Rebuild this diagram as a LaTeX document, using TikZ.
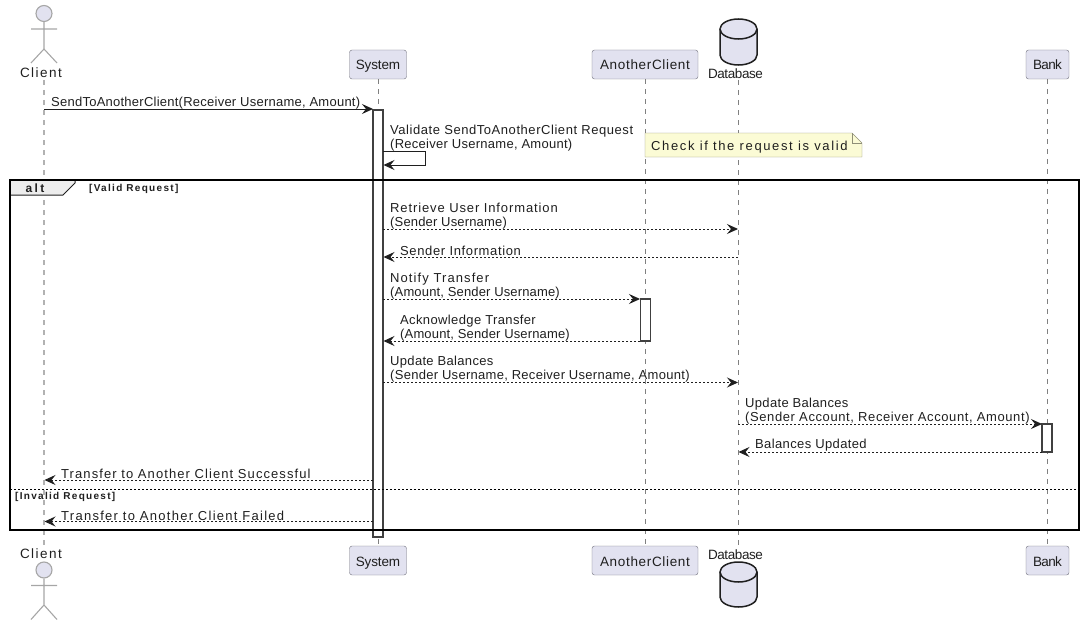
\documentclass[tikz,border=0pt]{standalone}
\usepackage{fontspec}
\setmainfont{Liberation Sans}
\usetikzlibrary{arrows.meta,shapes.geometric}
\definecolor{partfill}{HTML}{E2E2F0}
\definecolor{partline}{HTML}{6F6F7A}
\definecolor{ink}{HTML}{1F1F1F}
\definecolor{notefill}{HTML}{FBFBD5}
\definecolor{noteline}{HTML}{8F8F78}
\newcommand{\ls}[2]{{\addfontfeature{LetterSpace=#1}#2}}
\tikzset{
	part/.style={draw=partline, fill=partfill, rounded corners=2.5pt, minimum height=29pt, inner sep=0pt, text=ink, text height=12pt, text depth=1pt, font=\fontsize{13.5}{15}\selectfont},
	msg/.style={anchor=west, align=left, inner sep=0pt, text=ink, font=\fontsize{13}{14}\selectfont},
	small/.style={anchor=west, inner sep=0pt, text=ink, font=\fontsize{10}{11}\selectfont\bfseries\addfontfeature{LetterSpace=13}},
	actorlabel/.style={inner sep=0pt, text=ink, font=\fontsize{13.5}{15}\selectfont\addfontfeature{LetterSpace=11}},
	dblabel/.style={inner sep=0pt, text=ink, font=\fontsize{13.5}{15}\selectfont\addfontfeature{LetterSpace=-3}},
	life/.style={draw=gray, dash pattern=on 5pt off 5pt, line width=0.9pt},
	actorlife/.style={draw=black!30, dash pattern=on 5pt off 5pt, line width=1.5pt},
	activ/.style={draw=black!75, fill=white, line width=1.1pt, inner sep=0pt},
	call/.style={draw=ink, line width=1pt, -{Stealth[inset=4pt,length=11pt,width=10pt]}},
	back/.style={call, dash pattern=on 2pt off 2pt},
	limb/.style={draw=black!35, line width=1.1pt},
	can/.style={draw=ink, fill=partfill, line width=1.5pt},
}
\begin{document}
\begin{tikzpicture}[x=1pt,y=-1pt]
	\useasboundingbox (0,0) rectangle (1085,626);
	% participants, top row
	\node[part, minimum width=57pt] (sys_t) at (378,64.5) {\ls{-1}{System}};
	\node[part, minimum width=106pt] (ano_t) at (645,64.5) {\ls{5}{AnotherClient}};
	\node[part, minimum width=43pt] (bank_t) at (1047.5,64.5) {\ls{-5}{Bank}};
	\node[actorlabel] (cli_t) at (41,72.5) {Client};
	\node[dblabel] (db_t) at (735.5,73.5) {Database};
	% participants, bottom row
	\node[part, minimum width=57pt] (sys_b) at (378,560.5) {\ls{-1}{System}};
	\node[part, minimum width=106pt] (ano_b) at (645,560.5) {\ls{5}{AnotherClient}};
	\node[part, minimum width=43pt] (bank_b) at (1047.5,560.5) {\ls{-5}{Bank}};
	\node[actorlabel] (cli_b) at (41,554) {Client};
	\node[dblabel] (db_b) at (735.5,554.5) {Database};

	% actors
	\node[circle, draw=black!35, fill=partfill, line width=1.1pt, inner sep=0pt, minimum size=16pt] (head_t) at (44,13.5) {};
	\coordinate (neck_t) at (44,49);
	\coordinate (armL_t) at (31,29);
	\coordinate (armR_t) at (57,29);
	\coordinate (legL_t) at (31,63);
	\coordinate (legR_t) at (57,63);
	\draw[limb] (head_t) -- (neck_t) (armL_t) -- (armR_t) (legL_t) -- (neck_t) -- (legR_t);
	\node[circle, draw=black!35, fill=partfill, line width=1.1pt, inner sep=0pt, minimum size=16pt] (head_b) at (44,570) {};
	\coordinate (neck_b) at (44,605);
	\coordinate (armL_b) at (31,585.5);
	\coordinate (armR_b) at (57,585.5);
	\coordinate (legL_b) at (31,619.5);
	\coordinate (legR_b) at (57,619.5);
	\draw[limb] (head_b) -- (neck_b) (armL_b) -- (armR_b) (legL_b) -- (neck_b) -- (legR_b);

	% database cans
	\draw[can] (720,29) arc[start angle=180, end angle=0, x radius=18.5pt, y radius=10pt] -- (757,55) arc[start angle=0, end angle=-180, x radius=18.5pt, y radius=10pt] -- cycle;
	\draw[can] (720,29) arc[start angle=180, end angle=360, x radius=18.5pt, y radius=10pt];
	\draw[can] (720,572) arc[start angle=180, end angle=0, x radius=18.5pt, y radius=10pt] -- (757,597) arc[start angle=0, end angle=-180, x radius=18.5pt, y radius=10pt] -- cycle;
	\draw[can] (720,572) arc[start angle=180, end angle=360, x radius=18.5pt, y radius=10pt];

	% lifelines
	\coordinate (cli_a) at (44,80);
	\coordinate (cli_z) at (44,546);
	\coordinate (db_a) at (738,80);
	\coordinate (db_z) at (738,546);
	\draw[actorlife] (cli_a) -- (cli_z);
	\draw[life] (sys_t) -- (sys_b);
	\draw[life] (ano_t) -- (ano_b);
	\draw[life] (db_a) -- (db_z);
	\draw[life] (bank_t) -- (bank_b);

	% activation bars
	\node[activ, minimum width=10pt, minimum height=427pt] (sys_act) at (378,323.5) {};
	\node[activ, minimum width=10.5pt, minimum height=42pt] (ano_act) at (645.5,320) {};
	\node[activ, minimum width=10pt, minimum height=28pt] (bank_act) at (1047,438) {};

	% note
	\draw[draw=noteline, fill=notefill] (645,133) -- (852,133) -- (862,143) -- (862,157) -- (645,157) -- cycle;
	\draw[draw=noteline] (852,133) -- (852,143) -- (862,143);
	\node[msg] (note_t) at (651,147.5) {\ls{12.5}{Check if the request is valid}};

	% alt frame
	\draw[draw=ink, fill=black!7, line width=1pt] (10,180) -- (75,180) -- (75,183) -- (63,195) -- (10,195) -- cycle;
	\node[small, anchor=center, font=\fontsize{12}{13}\selectfont\bfseries\addfontfeature{LetterSpace=20}] (alt_t) at (35,188) {alt};
	\node[small] (valid_t) at (89,188.5) {[Valid Request]};
	\node[small] (invalid_t) at (15,496.5) {[Invalid Request]};
	\node[draw=black, line width=2pt, inner sep=0pt, minimum width=1069pt, minimum height=350pt] (alt) at (544.5,355) {};
	\coordinate (sep_l) at (10,489);
	\coordinate (sep_r) at (1079,489);
	\draw[draw=black, line width=1pt, dash pattern=on 2pt off 2pt] (sep_l) -- (sep_r);

	% messages
	\coordinate (m1a) at (44,109);
	\coordinate (m1b) at (373,109);
	\coordinate (m2a) at (383,151);
	\coordinate (m2c) at (425,151);
	\coordinate (m2d) at (425,165);
	\coordinate (m2b) at (383.5,165);
	\coordinate (m3a) at (383,229);
	\coordinate (m3b) at (738,229);
	\coordinate (m4a) at (738,257);
	\coordinate (m4b) at (383.5,257);
	\coordinate (m5a) at (383,299);
	\coordinate (m5b) at (640,299);
	\coordinate (m6a) at (640,341);
	\coordinate (m6b) at (383.5,341);
	\coordinate (m7a) at (383,382.5);
	\coordinate (m7b) at (738,382.5);
	\coordinate (m8a) at (738,424);
	\coordinate (m8b) at (1042,424);
	\coordinate (m9a) at (1042,452);
	\coordinate (m9b) at (738.5,452);
	\coordinate (m10a) at (373,480);
	\coordinate (m10b) at (44.5,480);
	\coordinate (m11a) at (373,521.5);
	\coordinate (m11b) at (44.5,521.5);

	\draw[call] (m1a) -- (m1b);
	\draw[call] (m2a) -- (m2c) -- (m2d) -- (m2b);
	\draw[back] (m3a) -- (m3b);
	\draw[back] (m4a) -- (m4b);
	\draw[back] (m5a) -- (m5b);
	\draw[back] (m6a) -- (m6b);
	\draw[back] (m7a) -- (m7b);
	\draw[back] (m8a) -- (m8b);
	\draw[back] (m9a) -- (m9b);
	\draw[back] (m10a) -- (m10b);
	\draw[back] (m11a) -- (m11b);

	\node[msg] (m1_t) at (51,103) {\ls{1.9}{SendToAnotherClient(Receiver Username, Amount)}};
	\node[msg] (m2_t) at (390,138) {\ls{4.3}{Validate SendToAnotherClient Request}\\\ls{2.1}{(Receiver Username, Amount)}};
	\node[msg] (m3_t) at (390,216.5) {\ls{6.8}{Retrieve User Information}\\\ls{1.3}{(Sender Username)}};
	\node[msg] (m4_t) at (400,250.5) {\ls{4.9}{Sender Information}};
	\node[msg] (m5_t) at (390,286.5) {\ls{8.4}{Notify Transfer}\\\ls{1.2}{(Amount, Sender Username)}};
	\node[msg] (m6_t) at (400,328) {\ls{2.9}{Acknowledge Transfer}\\\ls{1.2}{(Amount, Sender Username)}};
	\node[msg] (m7_t) at (390,369.5) {\ls{2.5}{Update Balances}\\\ls{2.2}{(Sender Username, Receiver Username, Amount)}};
	\node[msg] (m8_t) at (745,411.5) {\ls{2.5}{Update Balances}\\\ls{4.6}{(Sender Account, Receiver Account, Amount)}};
	\node[msg] (m9_t) at (755,445.5) {\ls{2.9}{Balances Updated}};
	\node[msg] (m10_t) at (61,474) {\ls{8.3}{Transfer to Another Client Successful}};
	\node[msg] (m11_t) at (61,515.5) {\ls{9.8}{Transfer to Another Client Failed}};
\end{tikzpicture}
\end{document}
